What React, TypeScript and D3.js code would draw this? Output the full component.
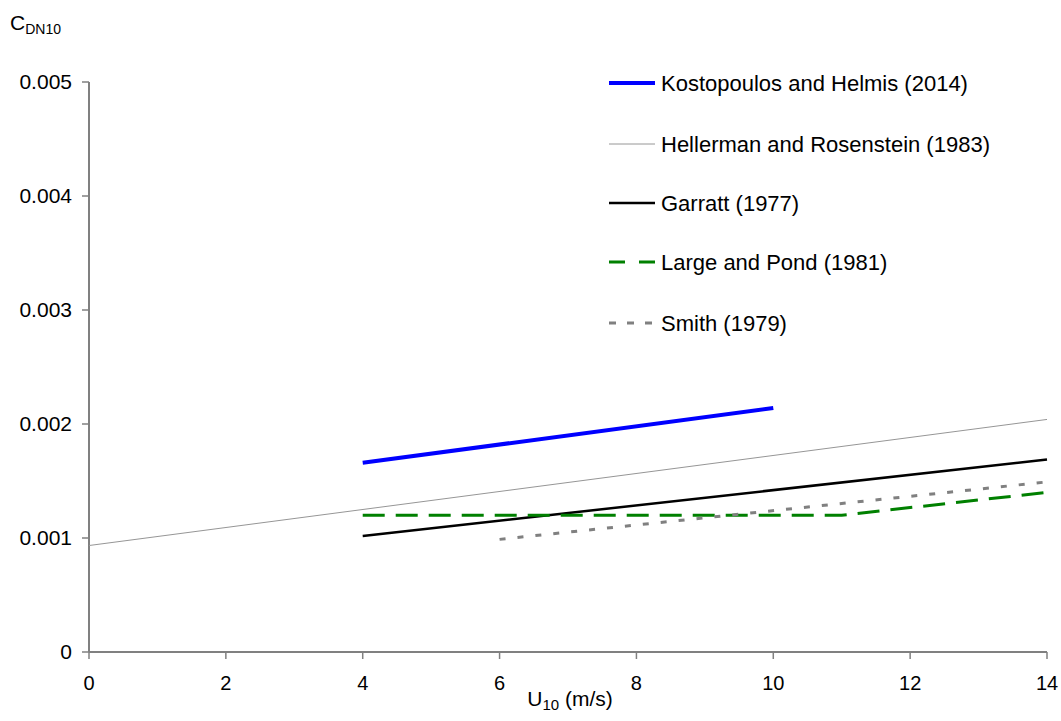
import React from "react";
import * as d3 from "d3";

const xTicks = [0, 2, 4, 6, 8, 10, 12, 14];
const yTicks = [0, 0.001, 0.002, 0.003, 0.004, 0.005];

const kostopoulosU = [4, 10];
const kostopoulosC = [0.00166, 0.00214];
const hellermanU = [0, 14];
const hellermanC = [0.000934, 0.00204];
const garrattU = [4, 14];
const garrattC = [0.001018, 0.001688];
const largePondU = [4, 11, 14];
const largePondC = [0.0012, 0.0012, 0.0014];
const smithU = [6, 14];
const smithC = [0.000988, 0.001492];

const seriesNames = [
  "Kostopoulos and Helmis (2014)",
  "Hellerman and Rosenstein (1983)",
  "Garratt (1977)",
  "Large and Pond (1981)",
  "Smith (1979)",
];

const W = 1061;
const H = 721;
const FONT = "Liberation Sans, Arial, sans-serif";

export default function App() {
  const x = d3.scaleLinear().domain([0, 14]).range([89, 1047]);
  const y = d3.scaleLinear().domain([0, 0.005]).range([652, 82]);
  const line = d3
    .line<[number, number]>()
    .x((d) => x(d[0]))
    .y((d) => y(d[1]));
  const zip = (u: number[], c: number[]) => u.map((v, i) => [v, c[i]] as [number, number]);

  const styles = [
    { stroke: "#0000ff", width: 4, dash: undefined as string | undefined, u: kostopoulosU, c: kostopoulosC },
    { stroke: "#969696", width: 1, dash: undefined, u: hellermanU, c: hellermanC },
    { stroke: "#000000", width: 2.5, dash: undefined, u: garrattU, c: garrattC },
    { stroke: "#008000", width: 3, dash: "22,11", u: largePondU, c: largePondC },
    { stroke: "#808080", width: 3, dash: "6,12", u: smithU, c: smithC },
  ];
  const legendY = [83, 144, 203, 262, 323];

  return (
    <svg width={W} height={H} style={{ position: "absolute", left: 0, top: 0 }} fontFamily={FONT}>
      <rect width={W} height={H} fill="#fff" />
      {/* axes */}
      <line x1={x(0)} x2={x(0)} y1={y(0.005)} y2={y(0)} stroke="#808080" strokeWidth={2} />
      <line x1={x(0)} x2={x(14)} y1={y(0)} y2={y(0)} stroke="#808080" strokeWidth={2} />
      {yTicks.map((t) => (
        <g key={"y" + t}>
          <line x1={x(0) - 7} x2={x(0)} y1={y(t)} y2={y(t)} stroke="#808080" strokeWidth={1.5} />
          <text x={72} y={y(t)} dy="0.35em" textAnchor="end" fontSize={21} fill="#000">
            {t === 0 ? "0" : t.toFixed(3)}
          </text>
        </g>
      ))}
      {xTicks.map((t) => (
        <g key={"x" + t}>
          <line x1={x(t)} x2={x(t)} y1={y(0)} y2={y(0) + 7} stroke="#808080" strokeWidth={1.5} />
          <text x={x(t)} y={683} dy="0.35em" textAnchor="middle" fontSize={20} fill="#000">
            {t}
          </text>
        </g>
      ))}
      <text x={570} y={706} textAnchor="middle" fontSize={21} fill="#000">
        U<tspan fontSize={15} dy={4}>10</tspan>
        <tspan dy={-4}> (m/s)</tspan>
      </text>
      <text x={10} y={30} fontSize={21} fill="#000">
        C<tspan fontSize={14} dy={4}>DN10</tspan>
      </text>
      {/* series */}
      {styles.map((s, i) => (
        <path
          key={i}
          d={line(zip(s.u, s.c)) || ""}
          fill="none"
          stroke={s.stroke}
          strokeWidth={s.width}
          strokeDasharray={s.dash}
        />
      ))}
      {/* legend */}
      {styles.map((s, i) => (
        <g key={"l" + i}>
          <line
            x1={609}
            x2={655}
            y1={legendY[i]}
            y2={legendY[i]}
            stroke={s.stroke}
            strokeWidth={s.width}
            strokeDasharray={s.dash ? (i === 3 ? "16,14" : "7,11") : undefined}
          />
          <text x={661} y={legendY[i]} dy="0.35em" fontSize={22} fill="#000">
            {seriesNames[i]}
          </text>
        </g>
      ))}
    </svg>
  );
}
